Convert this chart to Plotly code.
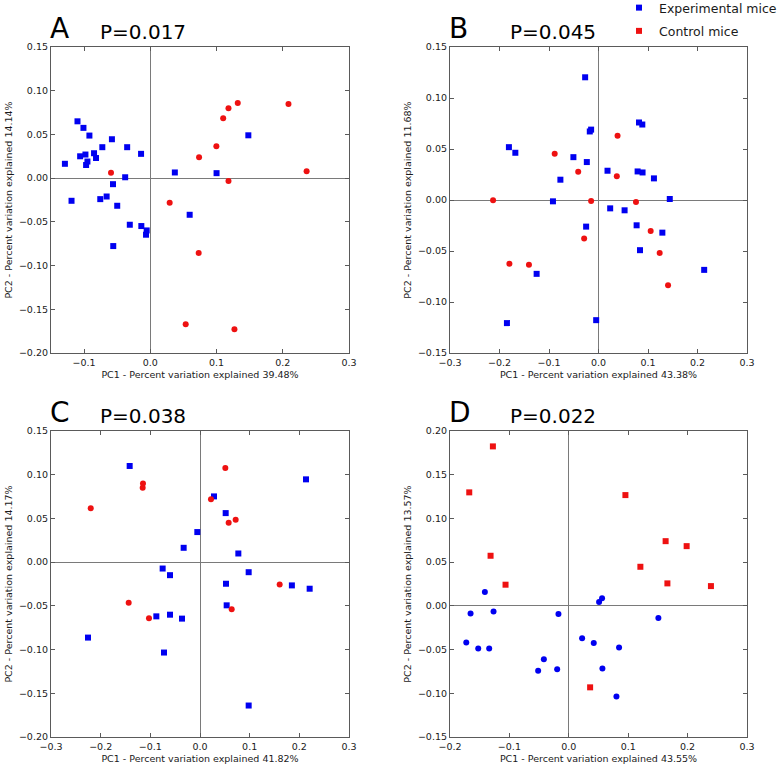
import plotly.graph_objects as go

# ---------------- data ----------------
a_exp_x = [-0.110, -0.101, -0.092, -0.129, -0.106, -0.098, -0.095, -0.097, -0.085, -0.082, -0.0725, -0.058, -0.035, -0.014, -0.038, 0.037, 0.100, 0.148, -0.0564, -0.119, -0.0756, -0.066, -0.050, -0.031, -0.0136, -0.0055, -0.0065, -0.056, 0.0594]
a_exp_y = [0.065, 0.0575, 0.0487, 0.0164, 0.025, 0.027, 0.019, 0.015, 0.0285, 0.023, 0.0354, 0.0445, 0.0354, 0.0278, 0.001, 0.0065, 0.0057, 0.049, -0.0069, -0.0259, -0.024, -0.021, -0.0316, -0.0533, -0.0548, -0.0598, -0.0647, -0.0777, -0.0419]
a_ctl_x = [-0.0594, 0.0736, 0.0997, 0.110, 0.118, 0.132, 0.2086, 0.236, 0.118, 0.0292, 0.073, 0.0534, 0.127]
a_ctl_y = [0.0061, 0.024, 0.0365, 0.0685, 0.080, 0.086, 0.0849, 0.008, -0.0034, -0.0282, -0.0856, -0.1671, -0.1728]

b_exp_x = [-0.027, -0.181, -0.168, -0.0507, -0.0236, -0.077, -0.0176, -0.0149, 0.0818, 0.0885, 0.0182, 0.079, 0.089, 0.112, 0.144, -0.092, 0.0236, 0.0527, -0.025, 0.077, 0.129, 0.0838, -0.125, 0.2135, -0.185, -0.0047]
b_exp_y = [0.1203, 0.0518, 0.0463, 0.042, 0.0372, 0.0199, 0.0672, 0.069, 0.076, 0.074, 0.0287, 0.028, 0.027, 0.0212, 0.001, -0.0013, -0.0082, -0.0101, -0.0261, -0.0248, -0.032, -0.0492, -0.0724, -0.0685, -0.1207, -0.1178]
b_ctl_x = [-0.0885, -0.041, 0.0385, 0.037, -0.213, -0.0149, 0.0757, -0.180, -0.1405, -0.029, 0.1054, 0.1236, 0.1405]
b_ctl_y = [0.0453, 0.0277, 0.063, 0.0232, -0.0003, -0.001, -0.002, -0.0626, -0.0636, -0.0378, -0.0303, -0.0519, -0.0835]

c_exp_x = [-0.1416, 0.0282, 0.0517, -0.0054, -0.0329, 0.0772, -0.0752, -0.0604, 0.098, 0.2134, 0.0523, 0.185, 0.2208, 0.0537, -0.0879, -0.0604, -0.0362, -0.2255, -0.0725, 0.098]
c_exp_y = [0.110, 0.0752, 0.0561, 0.0344, 0.0164, 0.0099, -0.0073, -0.0149, -0.0115, 0.0947, -0.0247, -0.0266, -0.0304, -0.0494, -0.0620, -0.0601, -0.0646, -0.0863, -0.1034, -0.164]
c_ctl_x = [-0.220, -0.1148, -0.1154, 0.051, 0.0221, 0.0577, 0.0718, -0.1436, -0.1027, 0.0638, 0.1604]
c_ctl_y = [0.0615, 0.090, 0.0851, 0.1076, 0.0718, 0.045, 0.0485, -0.0464, -0.0643, -0.054, -0.0255]

d_ctl_x = [-0.1278, -0.1676, -0.1317, 0.0953, 0.163, 0.1984, 0.1205, -0.1065, 0.166, 0.2393, 0.0359]
d_ctl_y = [0.1824, 0.1298, 0.0573, 0.1267, 0.074, 0.0683, 0.0447, 0.0242, 0.0257, 0.0226, -0.0932]
d_exp_x = [-0.1413, -0.1654, -0.1267, -0.0174, -0.1726, -0.1525, -0.134, -0.042, -0.0516, -0.0196, 0.0224, 0.042, 0.0846, 0.0566, 0.0802, 0.051, 0.056, 0.1508]
d_exp_y = [0.0158, -0.0087, -0.0064, -0.0094, -0.0419, -0.0487, -0.0487, -0.0611, -0.0743, -0.0725, -0.037, -0.0426, -0.0475, -0.0717, -0.1038, 0.0045, 0.0087, -0.014]

panel_letters = ["A", "B", "C", "D"]
p_values = ["P=0.017", "P=0.045", "P=0.038", "P=0.022"]
pc1_labels = ["PC1 - Percent variation explained 39.48%", "PC1 - Percent variation explained 43.38%",
              "PC1 - Percent variation explained 41.82%", "PC1 - Percent variation explained 43.55%"]
pc2_labels = ["PC2 - Percent variation explained 14.14%", "PC2 - Percent variation explained 11.68%",
              "PC2 - Percent variation explained 14.17%", "PC2 - Percent variation explained 13.57%"]
x_ranges = [[-0.15, 0.3], [-0.3, 0.3], [-0.3, 0.3], [-0.2, 0.3]]
y_ranges = [[-0.2, 0.15], [-0.15, 0.15], [-0.2, 0.15], [-0.15, 0.2]]
x_ticks = [[-0.1, 0.0, 0.1, 0.2, 0.3], [-0.3, -0.2, -0.1, 0.0, 0.1, 0.2, 0.3],
           [-0.3, -0.2, -0.1, 0.0, 0.1, 0.2, 0.3], [-0.2, -0.1, 0.0, 0.1, 0.2, 0.3]]
y_ticks = [[-0.2, -0.15, -0.1, -0.05, 0.0, 0.05, 0.1, 0.15], [-0.15, -0.1, -0.05, 0.0, 0.05, 0.1, 0.15],
           [-0.2, -0.15, -0.1, -0.05, 0.0, 0.05, 0.1, 0.15], [-0.15, -0.1, -0.05, 0.0, 0.05, 0.1, 0.15, 0.2]]

BLUE = "#0000f0"
RED = "#ee1111"
FONT = "DejaVu Sans"
W, H = 781, 767

# plot-area pixel boxes (left, right, top, bottom)
boxes = [(51, 349, 47, 353), (450, 747, 47, 353), (51, 349, 431, 737), (450, 747, 431, 737)]

fig = go.Figure()

series = [
    (a_exp_x, a_exp_y, BLUE, "square", "Experimental mice", True, 1),
    (a_ctl_x, a_ctl_y, RED, "circle", "Control mice", False, 1),
    (b_exp_x, b_exp_y, BLUE, "square", "Experimental mice", False, 2),
    (b_ctl_x, b_ctl_y, RED, "circle", "Control mice", False, 2),
    (c_exp_x, c_exp_y, BLUE, "square", "Experimental mice", False, 3),
    (c_ctl_x, c_ctl_y, RED, "circle", "Control mice", False, 3),
    (d_ctl_x, d_ctl_y, RED, "square", "Control mice", True, 4),
    (d_exp_x, d_exp_y, BLUE, "circle", "Experimental mice", False, 4),
]
for xs, ys, col, sym, name, show, k in series:
    sfx = "" if k == 1 else str(k)
    grp = "exp" if name.startswith("Exp") else "ctl"
    fig.add_trace(go.Scatter(
        x=xs, y=ys, mode="markers", name=name, showlegend=show,
        legendgroup=grp, legendrank=1 if grp == "exp" else 2,
        marker=dict(color=col, symbol=sym, size=6, line=dict(width=0)),
        xaxis="x" + sfx, yaxis="y" + sfx))

axis_common = dict(showline=True, mirror="ticks", linecolor="#5a5a5a", linewidth=1.2,
                   ticks="inside", ticklen=4, tickwidth=1.2, tickcolor="#5a5a5a",
                   showgrid=False, zeroline=True, zerolinecolor="#7a7a7a", zerolinewidth=1,
                   automargin=False,
                   tickfont=dict(family=FONT, size=9.5, color="#1a1a1a"))

layout = dict(width=W, height=H, margin=dict(l=0, r=0, t=0, b=0, autoexpand=False),
              paper_bgcolor="white", plot_bgcolor="white",
              font=dict(family=FONT, color="#1a1a1a"))
annotations = []
for i in range(4):
    l, r, t, b = boxes[i]
    sfx = "" if i == 0 else str(i + 1)
    layout["xaxis" + sfx] = dict(axis_common, domain=[l / W, r / W], range=x_ranges[i],
                                 tickvals=x_ticks[i], tickformat=".1f",
                                 anchor="y" + sfx,
                                 title=dict(text=pc1_labels[i], font=dict(family=FONT, size=9.5, color="#1a1a1a"), standoff=4))
    layout["yaxis" + sfx] = dict(axis_common, domain=[1 - b / H, 1 - t / H], range=y_ranges[i],
                                 tickvals=y_ticks[i], tickformat=".2f",
                                 anchor="x" + sfx,
                                 title=dict(text=pc2_labels[i], font=dict(family=FONT, size=9.5, color="#1a1a1a"), standoff=4))
    annotations.append(dict(text=panel_letters[i], xref="paper", yref="paper",
                            x=(l - 3) / W, y=1 - (t - 18.5) / H, xanchor="left", yanchor="middle",
                            showarrow=False, font=dict(family=FONT, size=28, color="black")))
    px = 100 if i in (0, 2) else 510
    annotations.append(dict(text=p_values[i], xref="paper", yref="paper",
                            x=(px - 2) / W, y=1 - (t - 15) / H, xanchor="left", yanchor="middle",
                            showarrow=False, font=dict(family=FONT, size=20, color="black")))
layout["annotations"] = annotations
layout["legend"] = dict(x=619 / W, y=1 + 7 / H, xanchor="left", yanchor="top",
                        font=dict(family=FONT, size=12.5, color="#1a1a1a"),
                        traceorder="grouped", tracegroupgap=4,
                        bgcolor="rgba(0,0,0,0)", itemwidth=30)
fig.update_layout(**layout)
fig.write_html("out.html", config={"displayModeBar": False},
               post_script="document.body.style.margin='0';document.body.style.overflow='hidden';")
